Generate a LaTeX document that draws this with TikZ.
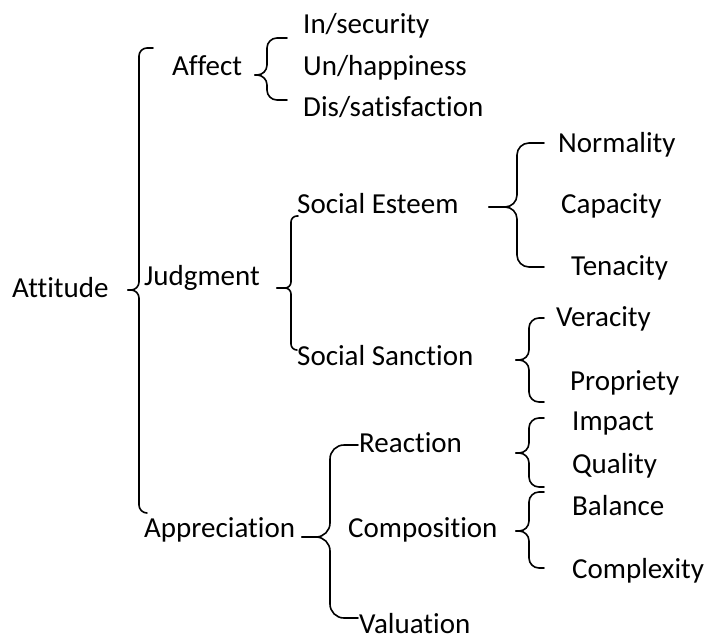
\documentclass[tikz,border=0pt]{standalone}
\usepackage{fontspec}
\setmainfont{Carlito}[Ligatures={NoCommon,NoContextual}]
\usepackage{tikz}
\usetikzlibrary{calc}
\tikzset{lbl/.style={anchor=base west, inner sep=0pt, font=\fontsize{29}{34}\selectfont},
brace line/.style={line width=1.6pt, line join=round, line cap=round}}
\newcommand{\wordbrace}[5][10pt]{%
\draw[brace line, rounded corners=#1] (#2) -- (#2 -| #5) -- (#3 -| #5) -- (#3);
\draw[brace line, rounded corners=#1] (#3) -- (#3 -| #5) -- (#4 -| #5) -- (#4);}

\begin{document}
\begin{tikzpicture}[x=1pt, y=-1pt]
        \useasboundingbox (0,0) rectangle (707,641);

        \node[lbl] (attitude) at (12, 297) {Attitude};
        \node[lbl] (affect) at (172, 75) {Affect};
        \node[lbl] (judgment) at (144, 285) {Judgment};
        \node[lbl] (appreciation) at (144, 537) {Appreciation};

        \node[lbl] (insecurity) at (303, 33) {In/security};
        \node[lbl] (unhappiness) at (303, 75) {Un/happiness};
        \node[lbl] (dissatisfaction) at (303, 116) {Dis/satisfaction};

        \node[lbl] (esteem) at (297, 213) {Social Esteem};
        \node[lbl] (sanction) at (297, 365) {Social Sanction};
        \node[lbl] (normality) at (558, 152) {Normality};
        \node[lbl] (capacity) at (561, 213) {Capacity};
        \node[lbl] (tenacity) at (571, 275) {Tenacity};
        \node[lbl] (veracity) at (556, 326) {Veracity};
        \node[lbl] (propriety) at (570, 390) {Propriety};

        \node[lbl] (reaction) at (359, 452) {Reaction};
        \node[lbl] (composition) at (348, 537) {Composition};
        \node[lbl] (valuation) at (359, 633) {Valuation};
        \node[lbl] (impact) at (572, 430) {Impact};
        \node[lbl] (quality) at (572, 473) {Quality};
        \node[lbl] (balance) at (572, 515) {Balance};
        \node[lbl] (complexity) at (572, 578) {Complexity};

        \coordinate (attT) at (153, 48);
        \coordinate (attM) at (128, 290);
        \coordinate (attB) at (147, 513);
        \coordinate (attS) at (139, 0);

        \coordinate (affT) at (287, 38);
        \coordinate (affM) at (255, 75);
        \coordinate (affB) at (287, 100);
        \coordinate (affS) at (267, 0);

        \coordinate (judT) at (298, 216);
        \coordinate (judM) at (277, 288);
        \coordinate (judB) at (297, 350);
        \coordinate (judS) at (291, 0);

        \coordinate (estT) at (544, 143);
        \coordinate (estM) at (489, 207);
        \coordinate (estB) at (544, 267);
        \coordinate (estS) at (517, 0);

        \coordinate (sanT) at (544, 318);
        \coordinate (sanM) at (516, 360);
        \coordinate (sanB) at (544, 402);
        \coordinate (sanS) at (529, 0);

        \coordinate (appT) at (358, 445);
        \coordinate (appM) at (302, 537);
        \coordinate (appB) at (358, 618);
        \coordinate (appS) at (330, 0);

        \coordinate (reaT) at (544, 418);
        \coordinate (reaM) at (516, 453);
        \coordinate (reaB) at (544, 487);

        \coordinate (comT) at (544, 492);
        \coordinate (comM) at (516, 531);
        \coordinate (comB) at (544, 568);

        \wordbrace[8pt]{attT}{attM}{attB}{attS}
        \wordbrace{affT}{affM}{affB}{affS}
        \wordbrace[6pt]{judT}{judM}{judB}{judS}
        \wordbrace[12pt]{estT}{estM}{estB}{estS}
        \wordbrace{sanT}{sanM}{sanB}{sanS}
        \wordbrace[14pt]{appT}{appM}{appB}{appS}
        \wordbrace{reaT}{reaM}{reaB}{sanS}
        \wordbrace{comT}{comM}{comB}{sanS}
\end{tikzpicture}
\end{document}
